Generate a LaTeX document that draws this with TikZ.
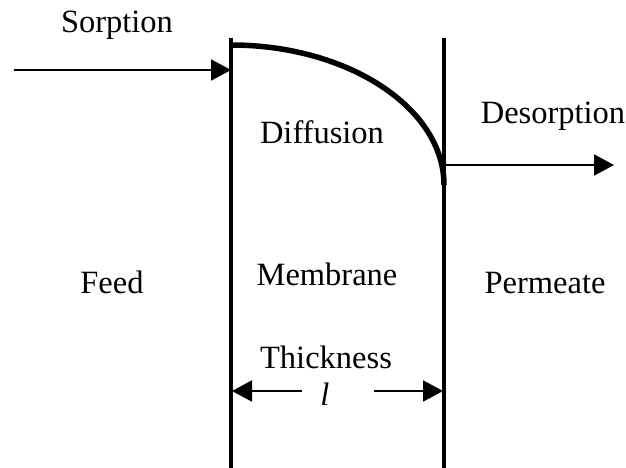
\documentclass[tikz,border=0pt]{standalone}
\usepackage{fontspec}
\setmainfont{Liberation Serif}
\usetikzlibrary{positioning, arrows.meta}

\begin{document}
\begin{tikzpicture}[x=1pt,y=-1pt,
  wall/.style={line width=3.5pt},
  profile/.style={line width=5.5pt},
  lbl/.style={font=\fontsize{32.5}{38}\selectfont, inner sep=0pt, anchor=base},
  arr/.style={-{Triangle[length=20pt,width=21pt]}, line width=2pt}]
  \useasboundingbox (0,0) rectangle (626,468);

  %% membrane walls
  \coordinate (ltop) at (231,38);
  \coordinate (lbot) at (231,468);
  \coordinate (rtop) at (444,38);
  \coordinate (rbot) at (444,468);
  \draw[wall] (ltop) -- (lbot);
  \draw[wall] (rtop) -- (rbot);

  %% concentration profile
  \coordinate (cin) at (231,45);
  \coordinate (cout) at (444,185);
  \draw[profile] (cin) .. controls (348,45) and (444,108) .. (cout);

  %% sorption / desorption
  \coordinate (feedin) at (14,70);
  \coordinate (lhit) at (231,70);
  \coordinate (rout) at (444,165);
  \coordinate (permout) at (614,165);
  \draw[arr] (feedin) -- (lhit);
  \draw[arr] (rout) -- (permout);

  \node[lbl] (sorp) at (117,33) {Sorption};
  \node[lbl] (desorp) at (553,124) {Desorption};
  \node[lbl] (diff) at (322,143) {Diffusion};
  \node[lbl] (memb) at (327,285) {Membrane};
  \node[lbl] (feed) at (112,293) {Feed};
  \node[lbl] (perm) at (545,293) {Permeate};
  \node[lbl] (thick) at (326,368) {Thickness};

  %% thickness l
  \node[lbl] (ell) at (325,405) {\textit{l}};
  \coordinate (gapl) at (302,391);
  \coordinate (gapr) at (374,391);
  \coordinate (lwall) at (232,391);
  \coordinate (rwall) at (443,391);
  \draw[arr] (gapl) -- (lwall);
  \draw[arr] (gapr) -- (rwall);
\end{tikzpicture}
\end{document}
